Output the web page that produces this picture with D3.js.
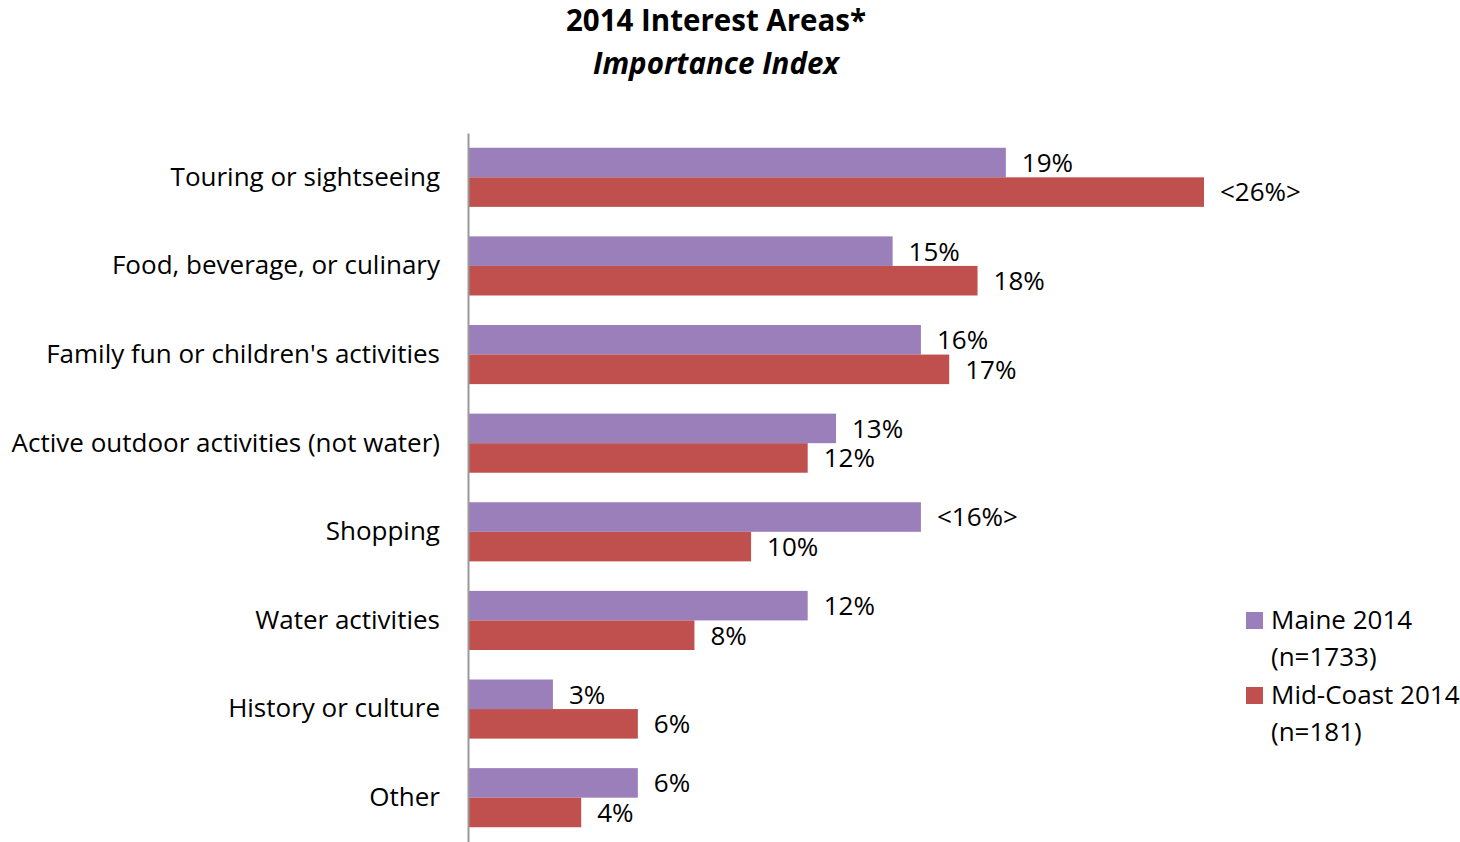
<!DOCTYPE html>
<html>
<head>
<meta charset="utf-8">
<script src="https://cdn.jsdelivr.net/npm/d3@7/dist/d3.min.js"></script>
<style>
  html, body { margin: 0; padding: 0; background: #fff; }
  svg { display: block; font-family: "Open Sans", Lato, sans-serif; }
</style>
</head>
<body>
<svg id="chart" width="1460" height="842"></svg>
<script>
// Interest areas, top to bottom
const categories = [
  "Touring or sightseeing",
  "Food, beverage, or culinary",
  "Family fun or children's activities",
  "Active outdoor activities (not water)",
  "Shopping",
  "Water activities",
  "History or culture",
  "Other"
];
// Importance index, percent
const maine2014 = [19, 15, 16, 13, 16, 12, 3, 6];
const midCoast2014 = [26, 18, 17, 12, 10, 8, 6, 4];
// Significant differences are shown as <value%>
const maineSignificant = [false, false, false, false, true, false, false, false];
const midCoastSignificant = [true, false, false, false, false, false, false, false];

const seriesNames = ["Maine 2014", "Mid-Coast 2014"];
const seriesSizes = ["(n=1733)", "(n=181)"];
const seriesColors = ["#9B7FBB", "#C0504D"];

const labelFont = "26px";
const titleFont = "29.5px";
const svg = d3.select("#chart");

const plot = { left: 468, top: 133, bottom: 842 };

const x = d3.scaleLinear().domain([0, 26]).range([plot.left, plot.left + 736]);
const y = d3.scaleBand().domain(categories).range([plot.top, plot.bottom]).paddingInner(0.333).paddingOuter(0.1665);
const sub = d3.scaleBand().domain([0, 1]).range([0, y.bandwidth()]);

const series = [
  { values: maine2014, sig: maineSignificant },
  { values: midCoast2014, sig: midCoastSignificant }
];

const fmt = (v, s) => s ? `<${v}%>` : `${v}%`;

// Title
svg.append("text")
  .attr("x", 716).attr("y", 31)
  .attr("text-anchor", "middle")
  .style("font-size", titleFont).style("font-weight", "bold")
  .text("2014 Interest Areas*");
svg.append("text")
  .attr("x", 716).attr("y", 74)
  .attr("text-anchor", "middle")
  .style("font-size", titleFont).style("font-weight", "bold").style("font-style", "italic")
  .text("Importance Index");

// Bars and value labels
series.forEach((s, si) => {
  const g = svg.append("g");
  g.selectAll("rect")
    .data(categories)
    .join("rect")
    .attr("x", x(0))
    .attr("y", c => y(c) + sub(si))
    .attr("width", (c, i) => x(s.values[i]) - x(0))
    .attr("height", sub.bandwidth())
    .attr("fill", seriesColors[si]);
  g.selectAll("text")
    .data(categories)
    .join("text")
    .attr("x", (c, i) => x(s.values[i]) + 16)
    .attr("y", c => y(c) + sub(si) + sub.bandwidth() / 2)
    .attr("dy", "0.36em")
    .style("font-size", labelFont)
    .attr("fill", "#000")
    .text((c, i) => fmt(s.values[i], s.sig[i]));
});

// Category axis
const axis = d3.axisLeft(y).tickSize(0).tickPadding(28);
const ag = svg.append("g").attr("transform", `translate(${plot.left},0)`).call(axis);
ag.select(".domain").attr("stroke", "#999").attr("stroke-width", 2);
ag.selectAll(".tick text")
  .style("font-size", labelFont)
  .style("font-family", "'Open Sans', Lato, sans-serif")
  .attr("fill", "#000");

// Legend
const lg = svg.append("g").attr("transform", "translate(1246,612)");
seriesNames.forEach((name, i) => {
  const row = lg.append("g").attr("transform", `translate(0,${i * 75})`);
  row.append("rect").attr("x", 0).attr("y", 0).attr("width", 17).attr("height", 17).attr("fill", seriesColors[i]);
  row.append("text").attr("x", 25).attr("y", 8).attr("dy", "0.36em").style("font-size", labelFont).text(name);
  row.append("text").attr("x", 25).attr("y", 45).attr("dy", "0.36em").style("font-size", labelFont).text(seriesSizes[i]);
});
</script>
</body>
</html>
